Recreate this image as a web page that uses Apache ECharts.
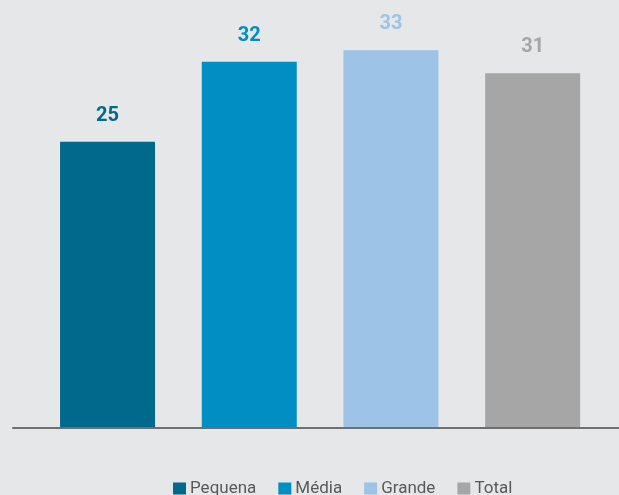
<!DOCTYPE html>
<html>
<head>
<meta charset="utf-8">
<script src="https://cdn.jsdelivr.net/npm/echarts@6/dist/echarts.min.js"></script>
<style>
  html, body { margin: 0; padding: 0; background: #e6e7e9; }
  #chart { width: 619px; height: 495px; }
</style>
</head>
<body>
<div id="chart"></div>
<script>
const categories = ['Pequena', 'Média', 'Grande', 'Total']
const values = [25, 32, 33, 31]
const colors = ['#00698c', '#008ec3', '#9dc3e6', '#a6a6a6']

const fontFamily = "Roboto, 'Liberation Sans', sans-serif"

const chart = echarts.init(document.getElementById('chart'))

// one series per category so each gets its own legend entry
const series = categories.map((name, i) => ({
  name,
  type: 'bar',
  xAxisIndex: 0,
  yAxisIndex: 0,
  barWidth: 95,
  barGap: '-100%',
  data: categories.map((c, j) => (j === i ? values[i] : '-')),
  itemStyle: { color: colors[i] },
  label: {
    show: true,
    position: 'top',
    distance: 16,
    color: colors[i],
    fontFamily,
    fontWeight: 'bold',
    fontSize: 20,
  },
}))

chart.setOption({
  backgroundColor: '#e6e7e9',
  animation: false,
  grid: [
    { left: 36.7, right: 15.5, top: 27.5, bottom: 67.5 },
    { left: 13, right: 0, top: 27.5, bottom: 67.5 },
  ],
  xAxis: [
    {
      type: 'category',
      gridIndex: 0,
      data: categories,
      axisLine: { show: false },
      axisTick: { show: false },
      axisLabel: { show: false },
    },
    {
      // baseline spanning wider than the bar area
      type: 'value',
      gridIndex: 1,
      min: 0,
      max: 1,
      z: 5,
      axisLine: { show: true, lineStyle: { color: '#6f6f6f', width: 2 } },
      axisTick: { show: false },
      axisLabel: { show: false },
      splitLine: { show: false },
    },
  ],
  yAxis: [
    { type: 'value', gridIndex: 0, min: 0, max: 35, show: false },
    { type: 'value', gridIndex: 1, min: 0, max: 1, show: false },
  ],
  legend: {
    data: categories,
    left: 168,
    top: 475,
    itemWidth: 13,
    itemHeight: 12,
    itemGap: 22,
    icon: 'rect',
    textStyle: { color: '#595959', fontFamily, fontSize: 17, padding: [0, 0, 0, -1] },
  },
  series,
})
</script>
</body>
</html>
